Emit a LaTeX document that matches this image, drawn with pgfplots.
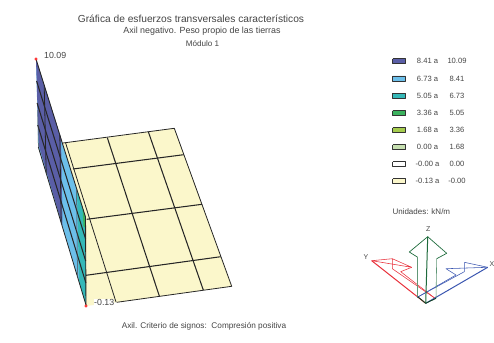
\documentclass[border=0pt]{standalone}
\usepackage{pgfplots}
\pgfplotsset{compat=1.18}
\usepackage{fontspec}
\setmainfont{Liberation Sans}
\definecolor{c1}{HTML}{5A5EA6}
\definecolor{c2}{HTML}{6CBFEA}
\definecolor{c3}{HTML}{35B8B8}
\definecolor{c4}{HTML}{3BB25E}
\definecolor{c5}{HTML}{A5CC4E}
\definecolor{c6}{HTML}{C6DFB0}
\definecolor{c7}{HTML}{FFFFFF}
\definecolor{c8}{HTML}{FBF7CB}
\definecolor{txt}{HTML}{444444}
\definecolor{grn}{HTML}{1E6B3C}
\definecolor{redax}{HTML}{E8303A}
\definecolor{bluax}{HTML}{3A56B0}
% legend row: colour, y, from, to
\newcommand{\legrow}[4]{%
  \addplot[fill=#1, draw=black!80, line width=.9pt] coordinates {(392.5,#2-2.5) (405.5,#2-2.5) (405.5,#2+2.5) (392.5,#2+2.5) (392.5,#2-2.5)};
  \node[txt, font=\fontsize{7.6}{9}\selectfont] at (axis cs:427.5,#2) {#3 a};
  \node[txt, font=\fontsize{7.6}{9}\selectfont] at (axis cs:457,#2) {#4};
}
\begin{document}
\begin{tikzpicture}
\begin{axis}[
  scale only axis, width=494pt, height=342pt,
  xmin=0, xmax=494, ymin=0, ymax=342, y dir=reverse,
  axis lines=none, clip=false,
  every axis plot/.append style={line join=round},
]
\path[use as bounding box] (axis cs:0,0) rectangle (axis cs:494,342);
% floor plate
\addplot[fill=c8, draw=none] coordinates {(63,143) (174.3,128.3) (231.7,286.3) (116.7,302.3) (86,306) (85.5,217) (63,143)};
\addplot[black!85, line width=.8pt] coordinates {(63,143) (174.3,128.3) (231.7,286.3) (116.7,302.3)};
\addplot[black!85, line width=.8pt] coordinates {(65.5,142.6) (116,302)};
\addplot[black!85, line width=1.05pt] coordinates {(107.3,137.7) (159.3,296)};
\addplot[black!85, line width=1.05pt] coordinates {(148.3,131.7) (203.3,290)};
\addplot[black!85, line width=1.05pt] coordinates {(73,169) (183.7,154.7)};
\addplot[black!85, line width=1.05pt] coordinates {(86.7,219.3) (202,204.3)};
\addplot[black!85, line width=1.05pt] coordinates {(86,275.3) (220.7,256.7)};
% wall, bands
\addplot[fill=c2, draw=none] coordinates {(36,59) (85.5,217) (86,305) (38.3,147) (36,59)};
\addplot[fill=c1, draw=none] coordinates {(36,59) (61,138) (62.5,226) (39,146) (38,125) (36,59)};
\addplot[fill=c3, draw=none] coordinates {(77,190) (85.5,217) (86,305) (79,281) (77,190)};
\addplot[fill=c4, draw=none] coordinates {(82.5,207) (85.5,217) (85.5,228) (83.5,226) (82.5,207)};
% wall mesh
\addplot[black!85, line width=.9pt] coordinates {(36,59) (85.5,217) (86,305)};
\addplot[black!85, line width=1.05pt] coordinates {(36.6,81) (85.6,239)};
\addplot[black!85, line width=1.05pt] coordinates {(37.1,103) (85.7,261)};
\addplot[black!85, line width=1.05pt] coordinates {(37.7,125) (85.9,283)};
\addplot[black!85, line width=.8pt] coordinates {(38.3,147) (86,305)};
\addplot[black!70, line width=.5pt] coordinates {(37.8,110) (38.3,147)};
\addplot[black!85, line width=.8pt] coordinates {(44.2,85) (46.2,173)};
\addplot[black!85, line width=.8pt] coordinates {(59.8,135) (61.2,223)};
\addplot[black!70, line width=.5pt] coordinates {(76.6,188.6) (77.4,276.6)};
% extreme values
\addplot[only marks, mark=*, mark size=1.3pt, draw=red, fill=red!60] coordinates {(36,59) (86,306)};
\node[txt, font=\fontsize{8.8}{10}\selectfont, anchor=west, inner sep=0pt] at (axis cs:44,55) {10.09};
\node[txt, fill=white, font=\fontsize{8.8}{10}\selectfont, anchor=west, inner xsep=0pt, inner ysep=.3pt] at (axis cs:94,302.5) {-0.13};
% titles
\node[txt, font=\fontsize{10.2}{12}\selectfont] at (axis cs:191,18.5) {Gráfica de esfuerzos transversales característicos};
\node[txt, font=\fontsize{8.9}{10}\selectfont] at (axis cs:202,31) {Axil negativo. Peso propio de las tierras};
\node[txt, font=\fontsize{8.1}{10}\selectfont] at (axis cs:202.5,43.5) {Módulo 1};
\node[txt, font=\fontsize{8.25}{10}\selectfont] at (axis cs:204,326) {Axil. Criterio de signos:\ \ Compresión positiva};
% legend
\legrow{c1}{61.3}{8.41}{10.09}
\legrow{c2}{78.5}{6.73}{8.41}
\legrow{c3}{95.5}{5.05}{6.73}
\legrow{c4}{113}{3.36}{5.05}
\legrow{c5}{130}{1.68}{3.36}
\legrow{c6}{147}{0.00}{1.68}
\legrow{c7}{164.3}{-0.00}{0.00}
\legrow{c8}{181}{-0.13}{-0.00}
\node[txt, font=\fontsize{8}{10}\selectfont, anchor=west, inner sep=0pt] at (axis cs:392.3,211.3) {Unidades: kN/m};
% axes icon
\addplot[redax, line width=.55pt] coordinates {(392.3,258.7) (371.7,260.7) (411.7,267.3) (392.3,258.7) (392.3,268.7) (435,298.3)};
\addplot[redax, line width=.55pt] coordinates {(411.7,267.3) (400.7,271.7) (435,298.3)};
\addplot[redax, line width=1pt] coordinates {(371.7,260.7) (425.7,303.3)};
\addplot[bluax, line width=.55pt] coordinates {(464.3,262.3) (487.7,267.3) (446,268.7) (456,275) (417.3,297.3)};
\addplot[bluax, line width=.55pt] coordinates {(464.3,262.3) (464.3,271.7) (417.3,297.3)};
\addplot[bluax, line width=1pt] coordinates {(487.7,267.3) (425.7,303.3)};
\addplot[grn, line width=.7pt] coordinates {(417.7,257.3) (409.3,252) (427.7,236.7) (446.7,253.3) (436.7,258.7)};
\addplot[grn!70, line width=.6pt] coordinates {(417.7,257.3) (417.7,296.7)};
\addplot[grn!70, line width=.6pt] coordinates {(436.7,258.7) (436,298.3)};
\addplot[grn!60!black, line width=.9pt] coordinates {(417.7,296.7) (425.7,303.3) (436,298.3)};
\addplot[grn, line width=1pt] coordinates {(427.7,236.7) (425.7,303.3)};
\node[txt, font=\fontsize{7}{8}\selectfont] at (axis cs:428.3,229.5) {Z};
\node[txt, font=\fontsize{7}{8}\selectfont] at (axis cs:366,257) {Y};
\node[txt, font=\fontsize{7}{8}\selectfont] at (axis cs:492,264) {X};
\end{axis}
\end{tikzpicture}
\end{document}
